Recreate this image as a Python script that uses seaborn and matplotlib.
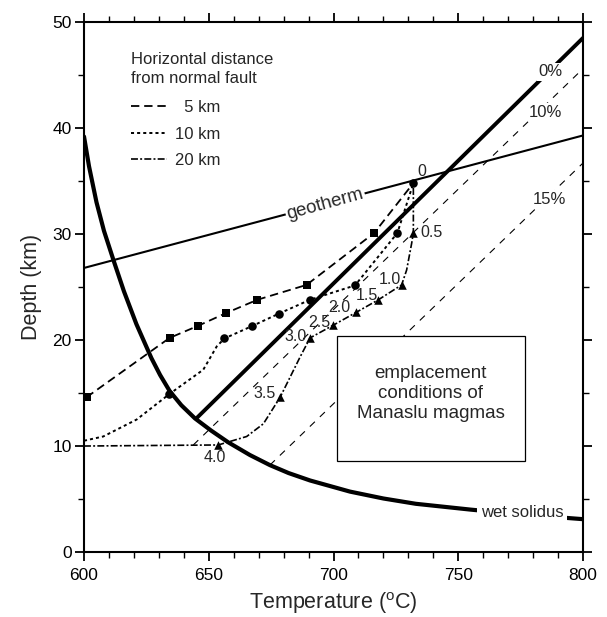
import matplotlib
matplotlib.use("Agg")
import matplotlib.pyplot as plt
import seaborn as sns
from matplotlib.lines import Line2D
from matplotlib.patches import Rectangle
from matplotlib.ticker import MultipleLocator

# ---------------- data ----------------
solidus_T = [600, 602, 605, 608, 612, 616, 621, 627, 630.5, 634.3, 639, 644.5, 651,
             657.8, 666.5, 674.5, 682, 690.6, 706.6, 720, 733, 755, 775, 800]
solidus_D = [39.2, 36.4, 33.0, 30.3, 27.4, 24.6, 21.5, 18.3, 16.7, 15.2, 13.85, 12.6, 11.45,
             10.35, 9.15, 8.2, 7.45, 6.75, 5.7, 5.05, 4.55, 4.0, 3.55, 3.1]

geotherm_T = [600, 800]
geotherm_D = [26.8, 39.3]

zero_T = [645.0, 800]
zero_D = [12.6, 48.5]
ten_T = [643.8, 800]
ten_D = [10.1, 45.6]
fifteen_T = [674.5, 800]
fifteen_D = [8.2, 36.7]

# 5 km (squares)
km5_T = [601, 634.3, 645.8, 657.0, 669.5, 689.2, 716.3, 732.0]
km5_D = [14.6, 20.2, 21.35, 22.55, 23.8, 25.2, 30.1, 34.8]
km5_mark_T = [601, 634.3, 645.8, 657.0, 669.5, 689.2, 716.3]
km5_mark_D = [14.6, 20.2, 21.35, 22.55, 23.8, 25.2, 30.1]

# 10 km (circles)
km10_T = [600, 607.7, 621.1, 634.2, 647.8, 653.2, 656.3, 667.2, 678.2, 690.6, 708.6, 725.6, 732.0]
km10_D = [10.5, 10.9, 12.5, 14.9, 17.2, 19.4, 20.15, 21.3, 22.5, 23.8, 25.15, 30.1, 34.8]
km10_mark_T = [634.2, 656.3, 667.2, 678.2, 690.6, 708.6, 725.6, 732.0]
km10_mark_D = [14.9, 20.15, 21.3, 22.5, 23.8, 25.15, 30.1, 34.8]

# 20 km (triangles)
km20_T = [600, 653.8, 665.2, 671.9, 678.6, 686.6, 690.6, 699.9, 709.0, 718.0, 727.3, 729.3, 731.3, 732.0, 732.0]
km20_D = [10.0, 10.1, 10.9, 12.1, 14.6, 18.4, 20.2, 21.4, 22.6, 23.8, 25.2, 26.6, 29.1, 30.1, 34.8]
km20_mark_T = [653.8, 678.6, 690.6, 699.9, 709.0, 718.0, 727.3, 732.0]
km20_mark_D = [10.1, 14.6, 20.2, 21.4, 22.6, 23.8, 25.2, 30.1]

age_labels = ["0", "0.5", "1.0", "1.5", "2.0", "2.5", "3.0", "3.5", "4.0"]
age_label_T = [735.3, 739.3, 722.6, 713.5, 702.3, 694.3, 684.6, 672.5, 652.5]
age_label_D = [35.9, 30.1, 25.7, 24.2, 23.1, 21.7, 20.3, 15.0, 8.9]

legend_labels = ["  5 km", "10 km", "20 km"]

# ---------------- style ----------------
sns.set_style("ticks")
plt.rcParams['font.family'] = ['Liberation Sans', 'DejaVu Sans']
plt.rcParams['mathtext.fontset'] = 'custom'
plt.rcParams['mathtext.rm'] = 'Liberation Sans'
plt.rcParams['lines.scale_dashes'] = False
plt.rcParams['axes.edgecolor'] = 'black'

fig = plt.figure(figsize=(6.07, 6.17), dpi=100)
ax = fig.add_axes([0.1384, 0.1053, 0.8221, 0.859])

k = 'black'
ds5 = (0, (6, 3.5))
ds10 = (0, (2.2, 2.2))
ds20 = (0, (5, 1.6, 1.4, 1.6))
thin_dash = (0, (5, 5))

# thin dashed percentage lines
for T, D in [(ten_T, ten_D), (fifteen_T, fifteen_D)]:
    sns.lineplot(x=T, y=D, ax=ax, color=k, lw=0.8, linestyle=thin_dash,
                 sort=False, estimator=None, zorder=1)

# thick lines
sns.lineplot(x=solidus_T, y=solidus_D, ax=ax, color=k, lw=3.0,
             sort=False, estimator=None, zorder=2)
sns.lineplot(x=zero_T, y=zero_D, ax=ax, color=k, lw=2.8,
             sort=False, estimator=None, zorder=2)
sns.lineplot(x=geotherm_T, y=geotherm_D, ax=ax, color=k, lw=1.5,
             sort=False, estimator=None, zorder=2)

# emplacement box
ax.add_patch(Rectangle((701.4, 8.6), 75.4, 11.8, facecolor='white',
                       edgecolor=k, lw=0.9, zorder=3))
ax.text(739, 14.95, "emplacement\nconditions of\nManaslu magmas", ha='center',
        va='center', fontsize=13.5, linespacing=1.25, zorder=4)

# series
sns.lineplot(x=km5_T, y=km5_D, ax=ax, color=k, lw=1.3, linestyle=ds5,
             sort=False, estimator=None, zorder=4)
sns.lineplot(x=km10_T, y=km10_D, ax=ax, color=k, lw=1.4, linestyle=ds10,
             sort=False, estimator=None, zorder=4)
sns.lineplot(x=km20_T, y=km20_D, ax=ax, color=k, lw=1.2, linestyle=ds20,
             sort=False, estimator=None, zorder=4)

sns.scatterplot(x=km5_mark_T, y=km5_mark_D, ax=ax, marker='s', s=32,
                color=k, linewidth=0, zorder=5)
sns.scatterplot(x=km10_mark_T, y=km10_mark_D, ax=ax, marker='o', s=38,
                color=k, linewidth=0, zorder=5)
sns.scatterplot(x=km20_mark_T, y=km20_mark_D, ax=ax, marker='^', s=38,
                color=k, linewidth=0, zorder=5)

for lab, T, D in zip(age_labels, age_label_T, age_label_D):
    ax.text(T, D, lab, ha='center', va='center', fontsize=11.5, zorder=6)

# line labels
wbox = dict(facecolor='white', edgecolor='none', pad=1.0)
ax.text(696.7, 32.8, "geotherm", rotation=15.5, rotation_mode='anchor',
        ha='center', va='center', fontsize=13.5, bbox=wbox, zorder=3)
ax.text(775.5, 3.7, "wet solidus", ha='center', va='center', fontsize=12,
        bbox=dict(facecolor='white', edgecolor='none', pad=2.5), zorder=3)
ax.text(787, 45.3, "0%", ha='center', va='center', fontsize=12,
        bbox=wbox, zorder=3)
ax.text(785, 41.5, "10%", ha='center', va='center', fontsize=12,
        bbox=wbox, zorder=3)
ax.text(786.4, 33.3, "15%", ha='center', va='center', fontsize=12,
        bbox=wbox, zorder=3)

# legend
handles = [Line2D([], [], color=k, lw=1.3, linestyle=ds5),
           Line2D([], [], color=k, lw=1.4, linestyle=ds10),
           Line2D([], [], color=k, lw=1.2, linestyle=ds20)]
leg = ax.legend(handles, legend_labels, title="Horizontal distance\nfrom normal fault",
                loc='upper left', bbox_to_anchor=(0.087, 0.949), frameon=False,
                alignment='left', fontsize=12, title_fontproperties={'size': 12},
                handlelength=2.2, handletextpad=0.45, labelspacing=0.68,
                borderaxespad=0.0, borderpad=0.2)
leg.get_title().set_linespacing(1.33)
leg._legend_box.sep = 10

# axes
ax.set_xlim(600, 800)
ax.set_ylim(0, 50)
ax.xaxis.set_major_locator(MultipleLocator(50))
ax.xaxis.set_minor_locator(MultipleLocator(10))
ax.yaxis.set_major_locator(MultipleLocator(10))
ax.yaxis.set_minor_locator(MultipleLocator(5))
ax.tick_params(which='both', direction='out', top=True, right=True,
               labeltop=False, labelright=False, color=k, labelcolor=k)
ax.tick_params(which='major', length=6.5, width=1.3, labelsize=12.5, pad=2.5)
ax.tick_params(which='minor', length=4, width=1.0)
ax.tick_params(axis='x', which='major', pad=5)
for sp in ax.spines.values():
    sp.set_linewidth(1.5)
    sp.set_color(k)
ax.set_xlabel("Temperature ($^{\\rm o}$C)", fontsize=15.5, labelpad=5)
ax.set_ylabel("Depth (km)", fontsize=15.5, labelpad=7)

fig.savefig("out.png", dpi=100)
